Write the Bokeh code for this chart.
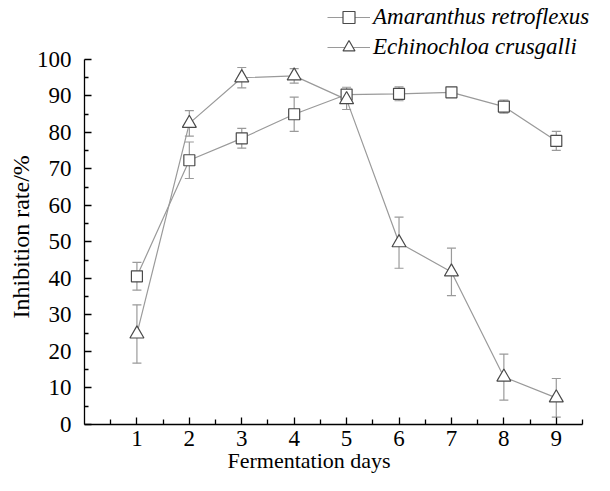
from bokeh.plotting import figure
from bokeh.models import (Range1d, FixedTicker, Whisker, ColumnDataSource, Legend, LegendItem,
                          TeeHead, Title)
from bokeh.embed import file_html
from bokeh.resources import INLINE

days = [1, 2, 3, 4, 5, 6, 7, 8, 9]
amaranthus = [40.6, 72.4, 78.4, 85.0, 90.4, 90.6, 91.0, 87.1, 77.7]
amaranthus_err = [3.8, 5.0, 2.7, 4.7, 2.0, 1.9, 1.0, 1.8, 2.6]
echinochloa = [24.8, 82.5, 95.0, 95.5, 89.0, 49.8, 41.8, 13.0, 7.3]
echinochloa_err = [8.0, 3.5, 2.8, 2.0, 2.7, 7.0, 6.5, 6.3, 5.3]
x_ticks = [1, 2, 3, 4, 5, 6, 7, 8, 9]
y_ticks = [0, 10, 20, 30, 40, 50, 60, 70, 80, 90, 100]

FONT = "serif"
LINE = "#9a9a9a"
MARK = "#4a4a4a"

p = figure(width=594, height=475, output_backend="svg", toolbar_location=None,
           x_range=Range1d(0, 9.729), y_range=Range1d(0, 116.16),
           min_border_left=84, min_border_right=0, min_border_bottom=51, min_border_top=0)
p.outline_line_color = None
p.grid.visible = False
p.background_fill_color = "white"

for ax in (p.xaxis[0], p.yaxis[0]):
    ax.axis_line_color = "black"
    ax.axis_line_width = 1.3
    ax.major_tick_line_color = "black"
    ax.minor_tick_line_color = "black"
    ax.major_tick_line_width = 1.3
    ax.minor_tick_line_width = 1.3
    ax.major_tick_out = 0
    ax.minor_tick_out = 0
    ax.major_label_text_color = "black"
    ax.major_label_text_font = FONT
    ax.major_label_text_font_size = "23px"

p.xaxis.bounds = (0, 9.5)
p.yaxis.bounds = (0, 100)
p.xaxis.ticker = FixedTicker(ticks=x_ticks, minor_ticks=[i + 0.5 for i in range(0, 10)])
p.yaxis.ticker = FixedTicker(ticks=y_ticks, minor_ticks=[i * 10 + 5 for i in range(10)])
p.xaxis.major_tick_in = 7
p.xaxis.minor_tick_in = 5
p.yaxis.major_tick_in = 7
p.yaxis.minor_tick_in = 4
p.xaxis.major_label_standoff = 6
p.yaxis.major_label_standoff = 13

xtitle = Title(text="Fermentation days", align="left", offset=143, standoff=-5,
               text_font=FONT, text_font_size="22px", text_font_style="normal",
               text_color="black")
p.add_layout(xtitle, "below")

ytitle = Title(text="Inhibition rate/%", align="left", offset=106, standoff=0,
               text_font=FONT, text_font_size="24px", text_font_style="normal",
               text_color="black")
p.add_layout(ytitle, "left")

srcA = ColumnDataSource(dict(x=days, y=amaranthus,
                             up=[v + e for v, e in zip(amaranthus, amaranthus_err)],
                             lo=[v - e for v, e in zip(amaranthus, amaranthus_err)]))
srcE = ColumnDataSource(dict(x=days, y=echinochloa,
                             up=[v + e for v, e in zip(echinochloa, echinochloa_err)],
                             lo=[v - e for v, e in zip(echinochloa, echinochloa_err)]))

for src in (srcA, srcE):
    w = Whisker(source=src, base="x", upper="up", lower="lo", line_color=LINE, line_width=1.2,
                upper_head=TeeHead(size=9, line_color=LINE, line_width=1.2),
                lower_head=TeeHead(size=9, line_color=LINE, line_width=1.2))
    p.add_layout(w)

lA = p.line("x", "y", source=srcA, line_color=LINE, line_width=1.2)
lE = p.line("x", "y", source=srcE, line_color=LINE, line_width=1.2)
mA = p.scatter("x", "y", source=srcA, marker="square", size=11, fill_color="white",
               line_color=MARK, line_width=1.2)
mE = p.scatter("x", "y", source=srcE, marker="triangle", size=14, fill_color="white",
               line_color=MARK, line_width=1.2)

legend = Legend(items=[LegendItem(label="Amaranthus retroflexus", renderers=[lA, mA]),
                       LegendItem(label="Echinochloa crusgalli", renderers=[lE, mE])],
                location=(243, 362), orientation="vertical",
                label_text_font=FONT, label_text_font_style="italic",
                label_text_font_size="23px", label_text_color="black",
                glyph_width=43, glyph_height=30, label_standoff=3, spacing=0,
                padding=0, margin=0, border_line_color=None, background_fill_alpha=0,
                label_height=30)
p.add_layout(legend, "center")

open("out.html", "w").write(file_html(p, INLINE))
